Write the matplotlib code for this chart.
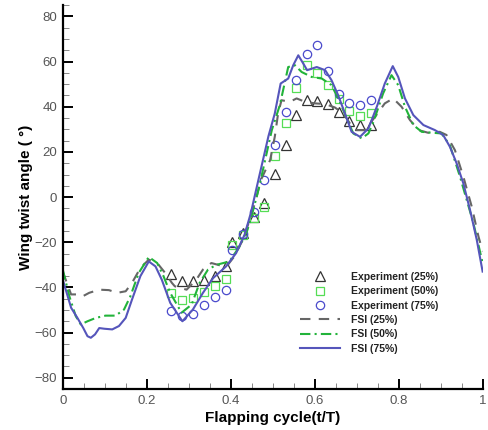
import numpy as np
import matplotlib
matplotlib.use("Agg")
import matplotlib.pyplot as plt
from matplotlib.ticker import MultipleLocator

plt.rcParams['font.family'] = ['Liberation Sans', 'DejaVu Sans']

# Experiment points (t/T, twist angle in degrees)
exp_x = [0.259, 0.285, 0.310, 0.336, 0.362, 0.388, 0.403, 0.429, 0.455, 0.480,
         0.505, 0.531, 0.556, 0.581, 0.606, 0.631, 0.657, 0.682, 0.708, 0.733]
exp25 = [-33.9, -37.3, -37.3, -36.6, -35.1, -30.4, -20.1, -15.7, -8.6, -2.4,
         10.2, 23.1, 36.3, 43.0, 42.7, 41.1, 37.8, 33.8, 31.9, 31.9]
exp50 = [-42.4, -45.4, -44.7, -42.0, -39.2, -36.3, -21.3, -16.7, -9.3, -4.4,
         18.0, 32.6, 48.5, 58.4, 55.0, 49.5, 43.3, 38.1, 35.9, 37.3]
exp75 = [-50.5, -52.7, -51.7, -48.0, -44.2, -41.0, -23.3, -16.2, -6.8, 7.6,
         23.1, 37.8, 51.8, 63.5, 67.2, 55.7, 45.6, 41.7, 40.7, 43.0]

# FSI results
fsi25_x = [0.0, 0.020, 0.035, 0.047, 0.063, 0.087, 0.110, 0.130, 0.150, 0.165,
           0.185, 0.205, 0.225, 0.244, 0.260, 0.267, 0.295, 0.318, 0.334, 0.354,
           0.370, 0.389, 0.409, 0.429, 0.448, 0.460, 0.472, 0.494, 0.505, 0.513,
           0.521, 0.541, 0.557, 0.577, 0.601, 0.625, 0.648, 0.668, 0.684, 0.700,
           0.720, 0.744, 0.767, 0.787, 0.807, 0.827, 0.847, 0.870, 0.898, 0.914,
           0.934, 0.954, 0.974, 0.990, 1.0]
fsi25_y = [-33.0, -43.1, -43.1, -44.0, -42.4, -41.0, -41.2, -42.4, -41.7, -38.0,
           -31.4, -27.7, -29.2, -33.6, -38.0, -39.5, -41.0, -36.6, -32.1, -29.2,
           -30.0, -31.0, -26.2, -18.9, -8.6, -1.2, 7.6, 16.4, 26.7, 37.1,
           42.9, 42.2, 43.7, 42.2, 41.5, 41.2, 39.7, 37.1, 32.6, 29.7,
           29.7, 35.6, 41.5, 43.7, 40.0, 34.1, 29.7, 28.5, 28.9, 27.5,
           20.8, 9.1, -4.2, -17.4, -24.0]

fsi50_x = [0.0, 0.016, 0.031, 0.043, 0.059, 0.079, 0.102, 0.126, 0.146, 0.161,
           0.181, 0.205, 0.225, 0.240, 0.256, 0.283, 0.307, 0.326, 0.346, 0.366,
           0.397, 0.421, 0.440, 0.456, 0.468, 0.498, 0.517, 0.537, 0.553, 0.569,
           0.593, 0.617, 0.640, 0.660, 0.676, 0.692, 0.712, 0.728, 0.740, 0.763,
           0.783, 0.799, 0.815, 0.835, 0.855, 0.879, 0.902, 0.922, 0.946, 0.978,
           1.0]
fsi50_y = [-32.0, -44.0, -52.7, -56.4, -55.0, -53.5, -52.5, -52.5, -49.8, -44.0,
           -33.6, -26.5, -29.2, -35.0, -42.4, -51.2, -47.6, -38.0, -32.1, -30.0,
           -28.5, -21.9, -14.5, -4.1, 4.7, 29.7, 40.7, 57.6, 58.4, 55.4,
           53.2, 52.5, 49.6, 42.2, 34.9, 28.2, 26.0, 28.2, 33.3, 45.9,
           54.0, 49.6, 40.0, 31.9, 28.9, 28.5, 28.2, 23.0, 9.1, -11.5,
           -29.2]

fsi75_x = [0.0, 0.020, 0.035, 0.049, 0.059, 0.067, 0.077, 0.087, 0.099, 0.118,
           0.134, 0.150, 0.165, 0.185, 0.205, 0.221, 0.236, 0.256, 0.285, 0.310,
           0.334, 0.358, 0.389, 0.413, 0.433, 0.448, 0.466, 0.490, 0.505, 0.519,
           0.537, 0.549, 0.561, 0.573, 0.582, 0.605, 0.625, 0.640, 0.656, 0.672,
           0.688, 0.708, 0.728, 0.748, 0.767, 0.786, 0.799, 0.815, 0.835, 0.859,
           0.886, 0.906, 0.922, 0.938, 0.954, 0.970, 0.986, 1.0]
fsi75_y = [-36.5, -49.0, -53.5, -58.0, -61.6, -62.3, -60.8, -58.0, -58.3, -58.6,
           -57.1, -53.5, -45.4, -35.0, -28.5, -30.7, -36.6, -46.8, -55.0, -49.8,
           -42.4, -35.9, -30.7, -24.8, -16.7, -7.1, 7.6, 27.0, 37.0, 50.3,
           52.5, 58.4, 62.8, 59.1, 56.2, 57.6, 56.2, 51.8, 45.1, 37.1,
           28.9, 26.7, 30.4, 40.0, 50.3, 58.0, 53.2, 43.7, 36.3, 31.9,
           29.7, 27.5, 22.3, 15.0, 6.1, -5.7, -18.9, -33.0]

labels = ['Experiment (25%)', 'Experiment (50%)', 'Experiment (75%)',
          'FSI (25%)', 'FSI (50%)', 'FSI (75%)']

fig = plt.figure(figsize=(4.88, 4.30), dpi=100)
ax = fig.add_axes([0.1285, 0.0953, 0.8605, 0.8927])

ax.plot(exp_x, exp25, '^', ms=7, mfc='none', mec='#333333', mew=0.9, label=labels[0])
ax.plot(exp_x, exp50, 's', ms=6, mfc='none', mec='#55dd55', mew=0.9, label=labels[1])
ax.plot(exp_x, exp75, 'o', ms=6, mfc='none', mec='#4a4acc', mew=0.9, label=labels[2])
ax.plot(fsi25_x, fsi25_y, color='#666666', lw=1.5, dashes=(5, 4), label=labels[3])
ax.plot(fsi50_x, fsi50_y, color='#22b33a', lw=1.5, dashes=(5, 2, 1, 2), label=labels[4])
ax.plot(fsi75_x, fsi75_y, color='#5555bb', lw=1.5, label=labels[5])

ax.set_xlim(0, 1)
ax.set_ylim(-85, 85)
ax.xaxis.set_minor_locator(MultipleLocator(0.05))
ax.yaxis.set_major_locator(MultipleLocator(20))
ax.yaxis.set_minor_locator(MultipleLocator(5))
ax.set_xticks([0, 0.2, 0.4, 0.6, 0.8, 1.0])
ax.set_xticklabels(['0', '0.2', '0.4', '0.6', '0.8', '1'])

for side in ['top', 'right']:
    ax.spines[side].set_visible(False)
for side in ['left', 'bottom']:
    ax.spines[side].set_linewidth(1.6)
ax.tick_params(which='major', direction='in', length=7, width=1.4,
               labelsize=9.5, labelcolor='#555555', pad=4)
ax.tick_params(which='minor', direction='in', length=4, width=0.7, color='#888888')

ax.set_xlabel('Flapping cycle(t/T)', fontsize=11, fontweight='bold', labelpad=3)
ax.set_ylabel('Wing twist angle ( °)', fontsize=11, fontweight='bold', labelpad=1)

leg = ax.legend(loc='upper left', bbox_to_anchor=(0.565, 0.305), frameon=False,
                prop={'weight': 'bold', 'size': 7.5}, handlelength=3.8,
                handletextpad=1.1, labelspacing=0.42, borderpad=0, borderaxespad=0)
for t in leg.get_texts():
    t.set_color('#222222')

fig.savefig('out.png', dpi=100)
